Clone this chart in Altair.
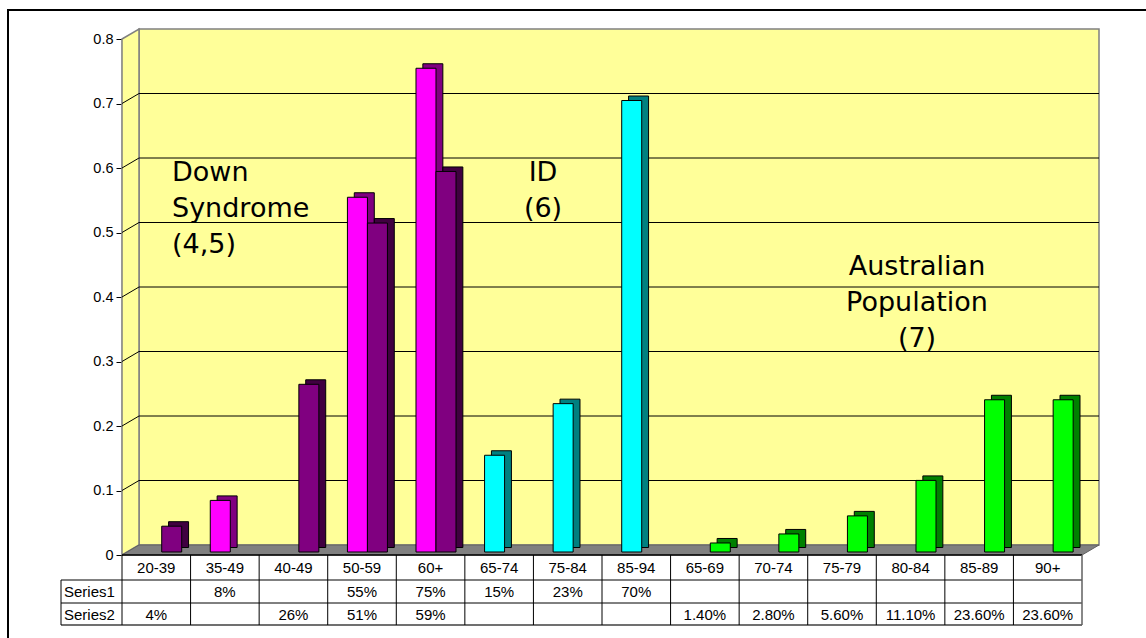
import altair as alt
import pandas as pd

# ---------------- data ----------------
categories = ["20-39", "35-49", "40-49", "50-59", "60+", "65-74", "75-84", "85-94",
              "65-69", "70-74", "75-79", "80-84", "85-89", "90+"]
series1 = [None, 0.08, None, 0.55, 0.75, 0.15, 0.23, 0.70, None, None, None, None, None, None]
series2 = [0.04, None, 0.26, 0.51, 0.59, None, None, None, 0.014, 0.028, 0.056, 0.111, 0.236, 0.236]
series1_labels = ["", "8%", "", "55%", "75%", "15%", "23%", "70%", "", "", "", "", "", ""]
series2_labels = ["4%", "", "26%", "51%", "59%", "", "", "", "1.40%", "2.80%", "5.60%",
                  "11.10%", "23.60%", "23.60%"]
groups = ["DS"] * 5 + ["ID"] * 3 + ["AU"] * 6
y_ticks = [0, 0.1, 0.2, 0.3, 0.4, 0.5, 0.6, 0.7, 0.8]
grid_values = [0.1, 0.2, 0.3, 0.4, 0.5, 0.6, 0.7]
series_names = ["Series1", "Series2"]

rows = []
for i, c in enumerate(categories):
    for s, vals in zip(series_names, (series1, series2)):
        if vals[i] is not None:
            rows.append({"cat": c, "series": s, "value": vals[i], "key": groups[i] + "-" + s})
bars_df = pd.DataFrame(rows)
cats_df = pd.DataFrame({"cat": categories, "s1": series1_labels, "s2": series2_labels})
grid_df = pd.DataFrame({"v": grid_values})
one = pd.DataFrame({"k": [0]})

# ---------------- geometry / style ----------------
W, H = 960, 516
DX, DY = 17, 10
WALL = "#FFFF99"
FONT_T = "Liberation Sans"

key_domain = ["DS-Series1", "DS-Series2", "ID-Series1", "AU-Series2"]
front_colors = ["#FF00FF", "#800080", "#00FFFF", "#00FF00"]
side_colors = ["#800080", "#400040", "#008080", "#008000"]

xscale = alt.Scale(domain=categories, paddingInner=0, paddingOuter=0)
yscale = alt.Scale(domain=[0, 0.8], nice=False, zero=True)

def off_scale(align):
    return alt.Scale(domain=series_names, paddingInner=0, paddingOuter=0.714, align=align)

# outer frame
frame = alt.Chart(one).mark_rect(fillOpacity=0, stroke="black", strokeWidth=2).encode(
    x=alt.value(-114), x2=alt.value(1200), y=alt.value(-29), y2=alt.value(800))

# back wall
back = alt.Chart(one).mark_rect(fill=WALL, stroke="#808080", strokeWidth=1.5).encode(
    x=alt.value(DX), x2=alt.value(W + DX), y=alt.value(-DY), y2=alt.value(H - DY))

# side wall
side_df = pd.DataFrame({"px": [0, DX], "py": [0, -DY], "py2": [H, H - DY]})
side = alt.Chart(side_df).mark_area(fill=WALL, stroke="#808080", strokeWidth=1.5).encode(
    x=alt.X("px:Q", scale=None, axis=None),
    y=alt.Y("py:Q", scale=None, axis=None),
    y2="py2:Q")

# floor
floor_df = pd.DataFrame({"px": [0, DX, W, W + DX], "py": [H, H - DY, H - DY, H - DY],
                         "py2": [H, H, H, H - DY]})
floor = alt.Chart(floor_df).mark_area(fill="#808080", stroke="#606060", strokeWidth=1).encode(
    x=alt.X("px:Q", scale=None, axis=None),
    y=alt.Y("py:Q", scale=None, axis=None),
    y2="py2:Q")

# gridlines on back wall and side wall
grid_back = alt.Chart(grid_df).mark_rule(color="black", strokeWidth=1, yOffset=-DY).encode(
    x=alt.value(DX), x2=alt.value(W + DX),
    y=alt.Y("v:Q", scale=yscale, axis=None))
grid_side = alt.Chart(grid_df).mark_rule(color="black", strokeWidth=1, y2Offset=-DY).encode(
    x=alt.value(0), x2=alt.value(DX),
    y=alt.Y("v:Q", scale=yscale, axis=None), y2="v:Q")

# bar side/top (shadow) and front faces
shadow = alt.Chart(bars_df).mark_bar(stroke="black", strokeWidth=1, yOffset=-7.5, y2Offset=-7.5).encode(
    x=alt.X("cat:N", scale=xscale, axis=None),
    xOffset=alt.XOffset("series:N", scale=off_scale(0.93)),
    y=alt.Y("value:Q", scale=yscale, axis=None),
    color=alt.Color("key:N", scale=alt.Scale(domain=key_domain, range=side_colors), legend=None))

front = alt.Chart(bars_df).mark_bar(stroke="black", strokeWidth=1, yOffset=-3, y2Offset=-3).encode(
    x=alt.X("cat:N", scale=xscale, axis=None),
    xOffset=alt.XOffset("series:N", scale=off_scale(0.69)),
    y=alt.Y("value:Q", scale=yscale,
            axis=alt.Axis(values=y_ticks, format=".1~f", title=None, grid=False,
                          domainColor="#808080", domainWidth=1.5, tickColor="black",
                          tickSize=6, labelFont=FONT_T, labelFontSize=14.5, labelColor="black",
                          labelPadding=3)),
    color=alt.Color("key:N", scale=alt.Scale(domain=key_domain, range=front_colors), legend=None))

# annotations
ann_style = dict(font="DejaVu Sans", fontSize=27, color="black", lineHeight=36, baseline="alphabetic")
ann_ds = alt.Chart(one).mark_text(text=["Down", "Syndrome", "(4,5)"], align="left", **ann_style).encode(
    x=alt.value(50), y=alt.value(142))
ann_id = alt.Chart(one).mark_text(text=["ID", "(6)"], align="center", **ann_style).encode(
    x=alt.value(421), y=alt.value(142))
ann_au = alt.Chart(one).mark_text(text=["Australian", "Population", "(7)"], align="center", **ann_style).encode(
    x=alt.value(795), y=alt.value(236))

# data table lines
hlines = [
    alt.Chart(one).mark_rule(color="black", strokeWidth=1.5).encode(
        x=alt.value(0), x2=alt.value(W), y=alt.value(H)),
    alt.Chart(one).mark_rule(color="black", strokeWidth=1).encode(
        x=alt.value(-61), x2=alt.value(W), y=alt.value(541)),
    alt.Chart(one).mark_rule(color="black", strokeWidth=1).encode(
        x=alt.value(-61), x2=alt.value(W), y=alt.value(564)),
    alt.Chart(one).mark_rule(color="#404040", strokeWidth=1.5).encode(
        x=alt.value(-61), x2=alt.value(W), y=alt.value(586)),
    alt.Chart(one).mark_rule(color="black", strokeWidth=1).encode(
        x=alt.value(-61), y=alt.value(541), y2=alt.value(586)),
    alt.Chart(one).mark_rule(color="#606060", strokeWidth=1.5).encode(
        x=alt.value(W), y=alt.value(H), y2=alt.value(586)),
]
vlines = alt.Chart(cats_df).mark_rule(color="black", strokeWidth=1).encode(
    x=alt.X("cat:N", scale=xscale, axis=None, bandPosition=0),
    y=alt.value(H), y2=alt.value(586))

txt = dict(font=FONT_T, fontSize=15, color="black", baseline="middle")
t_head = alt.Chart(cats_df).mark_text(**txt).encode(
    x=alt.X("cat:N", scale=xscale, axis=None), y=alt.value(529), text="cat:N")
t_s1 = alt.Chart(cats_df).mark_text(**txt).encode(
    x=alt.X("cat:N", scale=xscale, axis=None), y=alt.value(553), text="s1:N")
t_s2 = alt.Chart(cats_df).mark_text(**txt).encode(
    x=alt.X("cat:N", scale=xscale, axis=None), y=alt.value(575.5), text="s2:N")
t_lab1 = alt.Chart(one).mark_text(text="Series1", align="left", **txt).encode(
    x=alt.value(-58), y=alt.value(553))
t_lab2 = alt.Chart(one).mark_text(text="Series2", align="left", **txt).encode(
    x=alt.value(-58), y=alt.value(575.5))

chart = alt.layer(
    frame, back, side, floor, grid_back, grid_side, shadow, front,
    ann_ds, ann_id, ann_au, *hlines, vlines, t_head, t_s1, t_s2, t_lab1, t_lab2
).resolve_scale(
    x="independent", y="independent", color="independent", xOffset="independent"
).properties(
    width=W, height=H,
    autosize=alt.AutoSizeParams(type="none"),
    padding={"left": 122, "top": 39, "right": 64, "bottom": 83},
    background="white",
).configure_view(strokeWidth=0)

chart.save("out.html", embed_options={"renderer": "svg", "actions": False})
